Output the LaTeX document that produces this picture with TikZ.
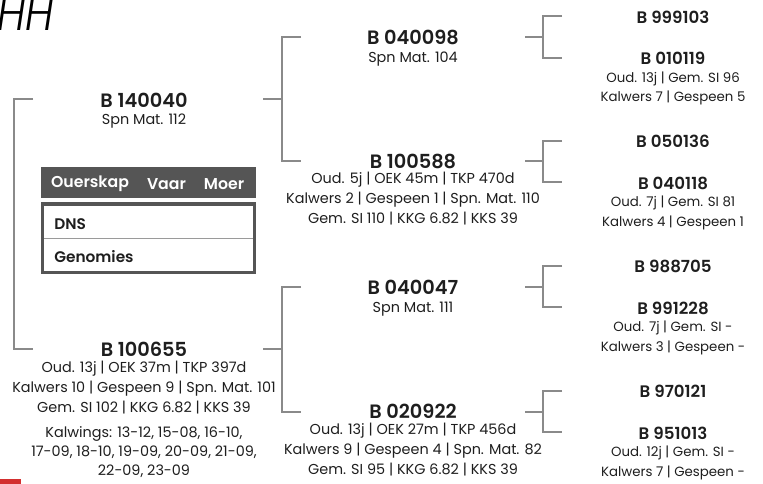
\documentclass[tikz,border=0pt]{standalone}
\usepackage{fontspec}
\setmainfont{Poppins}[BoldFont={Poppins SemiBold}]
\newfontfamily\hhfont{Poppins Light}[ItalicFont={Poppins Light Italic}]
\usepackage{tikz}
\usepackage{xcolor}
\definecolor{linegray}{HTML}{8A8A8A}
\definecolor{textdark}{HTML}{1E1E1E}
\definecolor{boxgray}{HTML}{555555}
\definecolor{rowgray}{HTML}{9A9A9A}
\definecolor{markred}{HTML}{D32F2F}
\tikzset{
  brak/.style={linegray,line width=0.8pt},
  bigid/.style={font=\fontsize{14.5}{16}\selectfont\bfseries,text=textdark,inner sep=0pt},
  smallid/.style={font=\fontsize{12.5}{14}\selectfont\bfseries,text=textdark,inner sep=0pt},
  info/.style={font=\fontsize{10.8}{15}\selectfont,text=textdark,align=center,inner sep=0pt},
  info3/.style={font=\fontsize{10}{14.6}\selectfont,text=textdark,align=center,inner sep=0pt},
  hdr/.style={font=\fontsize{11.8}{13}\selectfont\bfseries,text=white,inner sep=0pt},
  rowtxt/.style={font=\fontsize{11.5}{13}\selectfont\bfseries,text=textdark,anchor=west,inner sep=0pt}
}

\begin{document}
\begin{tikzpicture}[x=0.75pt,y=-0.75pt]
\useasboundingbox (0,0) rectangle (763,484);

% title
\node[anchor=base west,inner sep=0pt,font=\fontsize{37}{39}\hhfont\itshape,xscale=0.85,text=black] (hh) at (-3,31) {HH};

% first generation
\node[bigid] (t1) at (144,100) {B 140040};
\node[info] (d1) at (144,121) {Spn Mat. 112};
\node[bigid] (t2) at (144,349) {B 100655};
\node[info] (d2) at (144,388) {Oud. 13j | OEK 37m | TKP 397d\\Kalwers 10 | Gespeen 9 | Spn. Mat. 101\\Gem. SI 102 | KKG 6.82 | KKS 39};
\node[info,font=\fontsize{10.8}{14.3}\selectfont] (k2) at (144,452) {Kalwings: 13-12, 15-08, 16-10,\\17-09, 18-10, 19-09, 20-09, 21-09,\\22-09, 23-09};

% second generation
\node[bigid] (t3) at (413,37) {B 040098};
\node[info] (d3) at (413,59) {Spn Mat. 104};
\node[bigid] (t4) at (413,161) {B 100588};
\node[info] (d4) at (413,199) {Oud. 5j | OEK 45m | TKP 470d\\Kalwers 2 | Gespeen 1 | Spn. Mat. 110\\Gem. SI 110 | KKG 6.82 | KKS 39};
\node[bigid] (t5) at (413,287) {B 040047};
\node[info] (d5) at (413,309) {Spn Mat. 111};
\node[bigid] (t6) at (413,411) {B 020922};
\node[info] (d6) at (413,450) {Oud. 13j | OEK 27m | TKP 456d\\Kalwers 9 | Gespeen 4 | Spn. Mat. 82\\Gem. SI 95 | KKG 6.82 | KKS 39};

% third generation
\node[smallid] (g1) at (673,17) {B 999103};
\node[smallid] (g2) at (673,58) {B 010119};
\node[info3] (e2) at (673,88.5) {Oud. 13j | Gem. SI 96\\Kalwers 7 | Gespeen 5};
\node[smallid] (g3) at (673,141) {B 050136};
\node[smallid] (g4) at (673,183) {B 040118};
\node[info3] (e4) at (673,213) {Oud. 7j | Gem. SI 81\\Kalwers 4 | Gespeen 1};
\node[smallid] (g5) at (673,266) {B 988705};
\node[smallid] (g6) at (673,308) {B 991228};
\node[info3] (e6) at (673,338) {Oud. 7j | Gem. SI -\\Kalwers 3 | Gespeen -};
\node[smallid] (g7) at (673,391) {B 970121};
\node[smallid] (g8) at (673,433) {B 951013};
\node[info3] (e8) at (673,463) {Oud. 12j | Gem. SI -\\Kalwers 7 | Gespeen -};

% brackets
\coordinate (b1a) at (33,99);  \coordinate (b1b) at (14,349); \coordinate (b1c) at (33,349);
\draw[brak] (b1a) -| (b1b) -- (b1c);
\coordinate (s3) at (263,99);  \coordinate (j3) at (282,99);
\coordinate (b3a) at (301,37); \coordinate (b3b) at (282,161); \coordinate (b3c) at (301,161);
\draw[brak] (s3) -- (j3) (b3a) -| (b3b) -- (b3c);
\coordinate (s4) at (263,349); \coordinate (j4) at (282,349);
\coordinate (b4a) at (301,287); \coordinate (b4b) at (282,412); \coordinate (b4c) at (301,412);
\draw[brak] (s4) -- (j4) (b4a) -| (b4b) -- (b4c);
\foreach \yt/\ym/\yb [count=\i] in {16/37/58, 141/161/182, 266/287/307, 391/412/432}{
  \coordinate (s\i) at (525,\ym); \coordinate (j\i) at (543,\ym);
  \coordinate (u\i) at (562,\yt); \coordinate (v\i) at (543,\yb); \coordinate (w\i) at (562,\yb);
  \draw[brak] (s\i) -- (j\i) (u\i) -| (v\i) -- (w\i);
}

% ouerskap table
\fill[boxgray] (41,167) rectangle (256,198);
\node[hdr] (h1) at (90,184) {Ouerskap};
\node[hdr] (h2) at (166.5,184) {Vaar};
\node[hdr] (h3) at (224,184) {Moer};
\fill[white] (42,204) rectangle (254,272);
\draw[rowgray,line width=0.8pt] (42,238.5) -- (254,238.5);
\draw[boxgray,line width=2.4pt] (42.5,204) rectangle (254.5,272.5);
\node[rowtxt] (r1) at (54,224) {DNS};
\node[rowtxt] (r2) at (54,256.5) {Genomies};

% red mark
\fill[markred] (0,479) rectangle (21,484);
\end{tikzpicture}
\end{document}
